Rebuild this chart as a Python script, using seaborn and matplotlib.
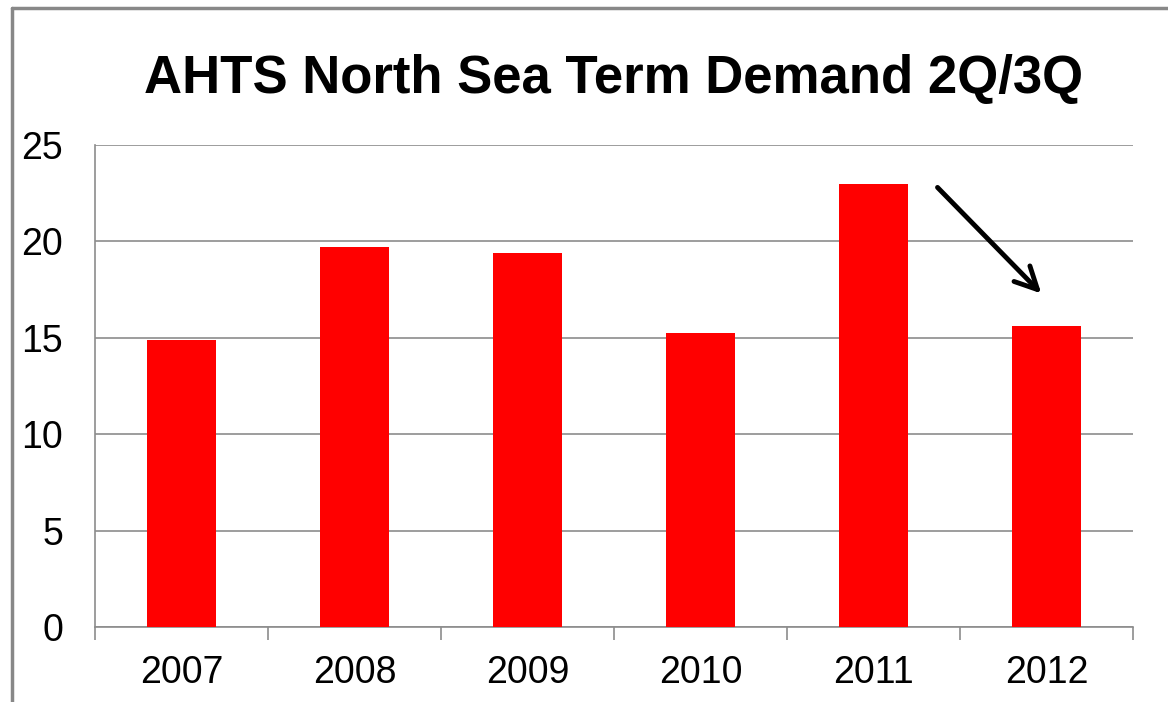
import matplotlib
matplotlib.use("Agg")
import matplotlib.pyplot as plt
import seaborn as sns
import pandas as pd
from matplotlib.lines import Line2D

years = ["2007", "2008", "2009", "2010", "2011", "2012"]
demand = [14.9, 19.7, 19.4, 15.25, 23.0, 15.6]
y_ticks = [0, 5, 10, 15, 20, 25]
title = "AHTS North Sea Term Demand 2Q/3Q"

df = pd.DataFrame({"year": years, "demand": demand})

sns.set_style("white")
plt.rcParams["font.family"] = ["Liberation Sans", "DejaVu Sans"]
plt.rcParams["text.color"] = "black"
plt.rcParams["xtick.labelcolor"] = "black"
plt.rcParams["ytick.labelcolor"] = "black"

fig = plt.figure(figsize=(11.68, 7.02), dpi=100)
ax = fig.add_axes([95 / 1168, 75 / 702, (1133 - 95) / 1168, (627 - 145) / 702])

sns.barplot(data=df, x="year", y="demand", color="#ff0000", width=0.4,
            saturation=1, linewidth=0, ax=ax, zorder=3)

grey = "#8c8c8c"
ax.set_ylim(0, 25)
ax.set_xlim(-0.5, len(years) - 0.5)
ax.set_yticks(y_ticks)
ax.yaxis.grid(True, color=grey, linewidth=1.2, zorder=0)
ax.set_axisbelow(True)
ax.set_xlabel("")
ax.set_ylabel("")

# category boundaries get the tick marks, labels sit in between
ax.set_xticks([i - 0.5 for i in range(len(years) + 1)], minor=True)
ax.tick_params(axis="x", which="major", length=0, pad=20, labelsize=27, labelcolor="black")
ax.tick_params(axis="x", which="minor", length=9, width=1.2, color=grey, direction="out")
ax.tick_params(axis="y", length=8, width=1.2, color=grey, direction="out", pad=15,
               labelsize=27, labelcolor="black")
ax.xaxis.set_tick_params(bottom=True, which="minor")

for s in ["top", "right"]:
    ax.spines[s].set_visible(False)
for s in ["left", "bottom"]:
    ax.spines[s].set_color(grey)
    ax.spines[s].set_linewidth(1.2)

# arrow pointing from 2011 down to 2012
ax.annotate("", xy=(4.97, 17.3), xytext=(4.37, 22.8),
            arrowprops=dict(arrowstyle="->", color="black", lw=3.5, mutation_scale=40,
                            shrinkA=0, shrinkB=0))

fig.text(614 / 1168, (702 - 93) / 702, title, ha="center", va="baseline",
         fontsize=38, fontweight="bold", color="black")

# slide frame (left and top only visible)
fig.add_artist(Line2D([12 / 1168, 12 / 1168], [0, 694 / 702], color="#888888", lw=2.5))
fig.add_artist(Line2D([12 / 1168, 1], [694 / 702, 694 / 702], color="#888888", lw=2.5))

fig.savefig("out.png", dpi=100)
